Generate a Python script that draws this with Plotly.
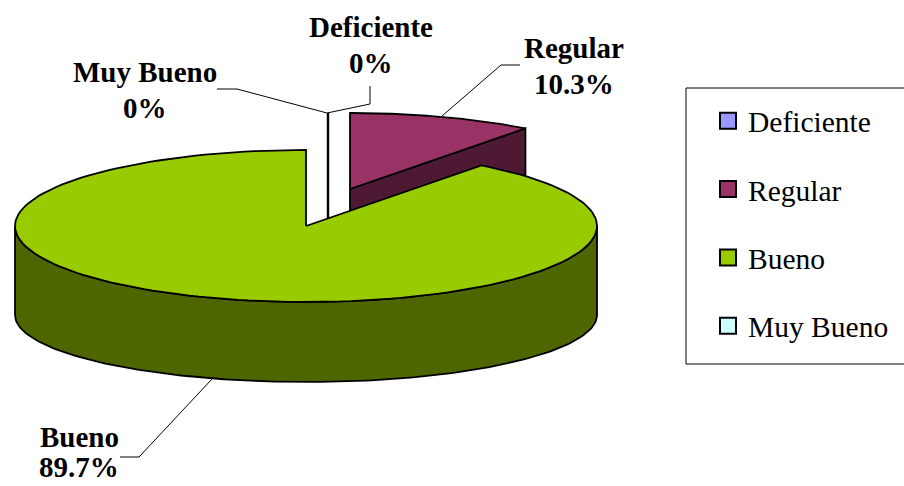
import numpy as np
import plotly.graph_objects as go

categories = ["Deficiente", "Regular", "Bueno", "Muy Bueno"]
values = [0, 10.3, 89.7, 0]
top_colors = ["#9999ff", "#993366", "#99cc00", "#ccffff"]
side_colors = ["#4d4d80", "#4d1933", "#4d6600", "#668080"]

# pie geometry (pixels)
CX, CY, A, B = 306, 226, 291, 76
CY2, B2 = 315, 67
DEPTH = 80
SHIFT_REG = (44, -37)
SHIFT_ZERO = (22, -37)
LW = 1.8


def rim(t1, t2, cx=CX, cy=CY, a=A, b=B, n=160):
    t = np.radians(np.linspace(t1, t2, n))
    return cx + a * np.sin(t), cy - b * np.cos(t)


def poly(fig, x, y, color, width=LW):
    fig.add_trace(go.Scatter(x=list(x), y=list(y), mode="lines", fill="toself", fillcolor=color,
                             line=dict(color="black", width=width), showlegend=False,
                             hoverinfo="skip"))


total = sum(values)
end_reg = values[1] / total * 360
fig = go.Figure()

# Regular, exploded
dx, dy = SHIFT_REG
rx, ry = rim(0, end_reg)
px, py = rx[-1] + dx, ry[-1] + dy
ax, ay = CX + dx, CY + dy
poly(fig, [ax, px, px, ax, ax], [ay, py, py + DEPTH, ay + DEPTH, ay], side_colors[1])
poly(fig, np.r_[ax, rx + dx, ax], np.r_[ay, ry + dy, ay], top_colors[1])

# zero-sized slices: a radius seen edge on
zx, zy = SHIFT_ZERO
fig.add_trace(go.Scatter(x=[CX + zx, CX + zx], y=[CY - B + zy, CY + zy + DEPTH], mode="lines",
                         line=dict(color="black", width=2.4), showlegend=False, hoverinfo="skip"))

# Bueno
sx1, sy1 = rim(90, 270)
sx2, sy2 = rim(270, 90, cy=CY2, b=B2)
poly(fig, np.r_[sx1, sx2, sx1[0]], np.r_[sy1, sy2, sy1[0]], side_colors[2])
bx, by = rim(end_reg, 360)
poly(fig, np.r_[CX, bx, CX], np.r_[CY, by, CY], top_colors[2])

# native legend
for c, col in zip(categories, top_colors):
    fig.add_trace(go.Scatter(x=[None], y=[None], mode="markers", name=c, legendgroup=c,
                             marker=dict(symbol="square", size=16, color=col,
                                         line=dict(color="black", width=2))))

# leader lines
leaders = [
    ([370, 370, 327], [86, 104, 113]),
    ([217, 237, 327], [89, 89, 113]),
    ([442, 501, 520], [116, 65, 65]),
    ([212, 139, 120], [379, 457, 457]),
]
for lx, ly in leaders:
    fig.add_trace(go.Scatter(x=lx, y=ly, mode="lines", line=dict(color="black", width=1),
                             showlegend=False, hoverinfo="skip"))

# centre of each label, then the y of its two lines
label_pos = {"Deficiente": (371, 27, 63), "Regular": (574, 48, 84),
             "Bueno": (79, 437, 467), "Muy Bueno": (145, 72, 108)}
annotations = []
for c, v in zip(categories, values):
    x, y1, y2 = label_pos[c]
    for text, y in ((c, y1), (f"{v:g}%", y2)):
        annotations.append(dict(x=x, y=y, xref="x", yref="y", showarrow=False,
                                text=f"<b>{text}</b>",
                                font=dict(family="Liberation Serif", size=29, color="black")))

fig.update_layout(
    width=904, height=486, margin=dict(l=0, r=0, t=0, b=0),
    paper_bgcolor="white", plot_bgcolor="white",
    xaxis=dict(range=[0, 904], visible=False, fixedrange=True),
    yaxis=dict(range=[486, 0], visible=False, fixedrange=True),
    annotations=annotations,
    shapes=[dict(type="rect", xref="x", yref="y", x0=686, x1=910, y0=88, y1=364,
                 line=dict(color="black", width=1), fillcolor="rgba(0,0,0,0)", layer="below")],
    legend=dict(x=708 / 904, y=1 - 95 / 486, xanchor="left", yanchor="top",
                traceorder="grouped", tracegroupgap=27, itemsizing="trace",
                bgcolor="rgba(0,0,0,0)", borderwidth=0,
                font=dict(family="Liberation Serif", size=29.5, color="black")),
)
fig.write_html("out.html", config={"displayModeBar": False},
               post_script="document.body.style.margin='0';document.documentElement.style.overflow='hidden';")
